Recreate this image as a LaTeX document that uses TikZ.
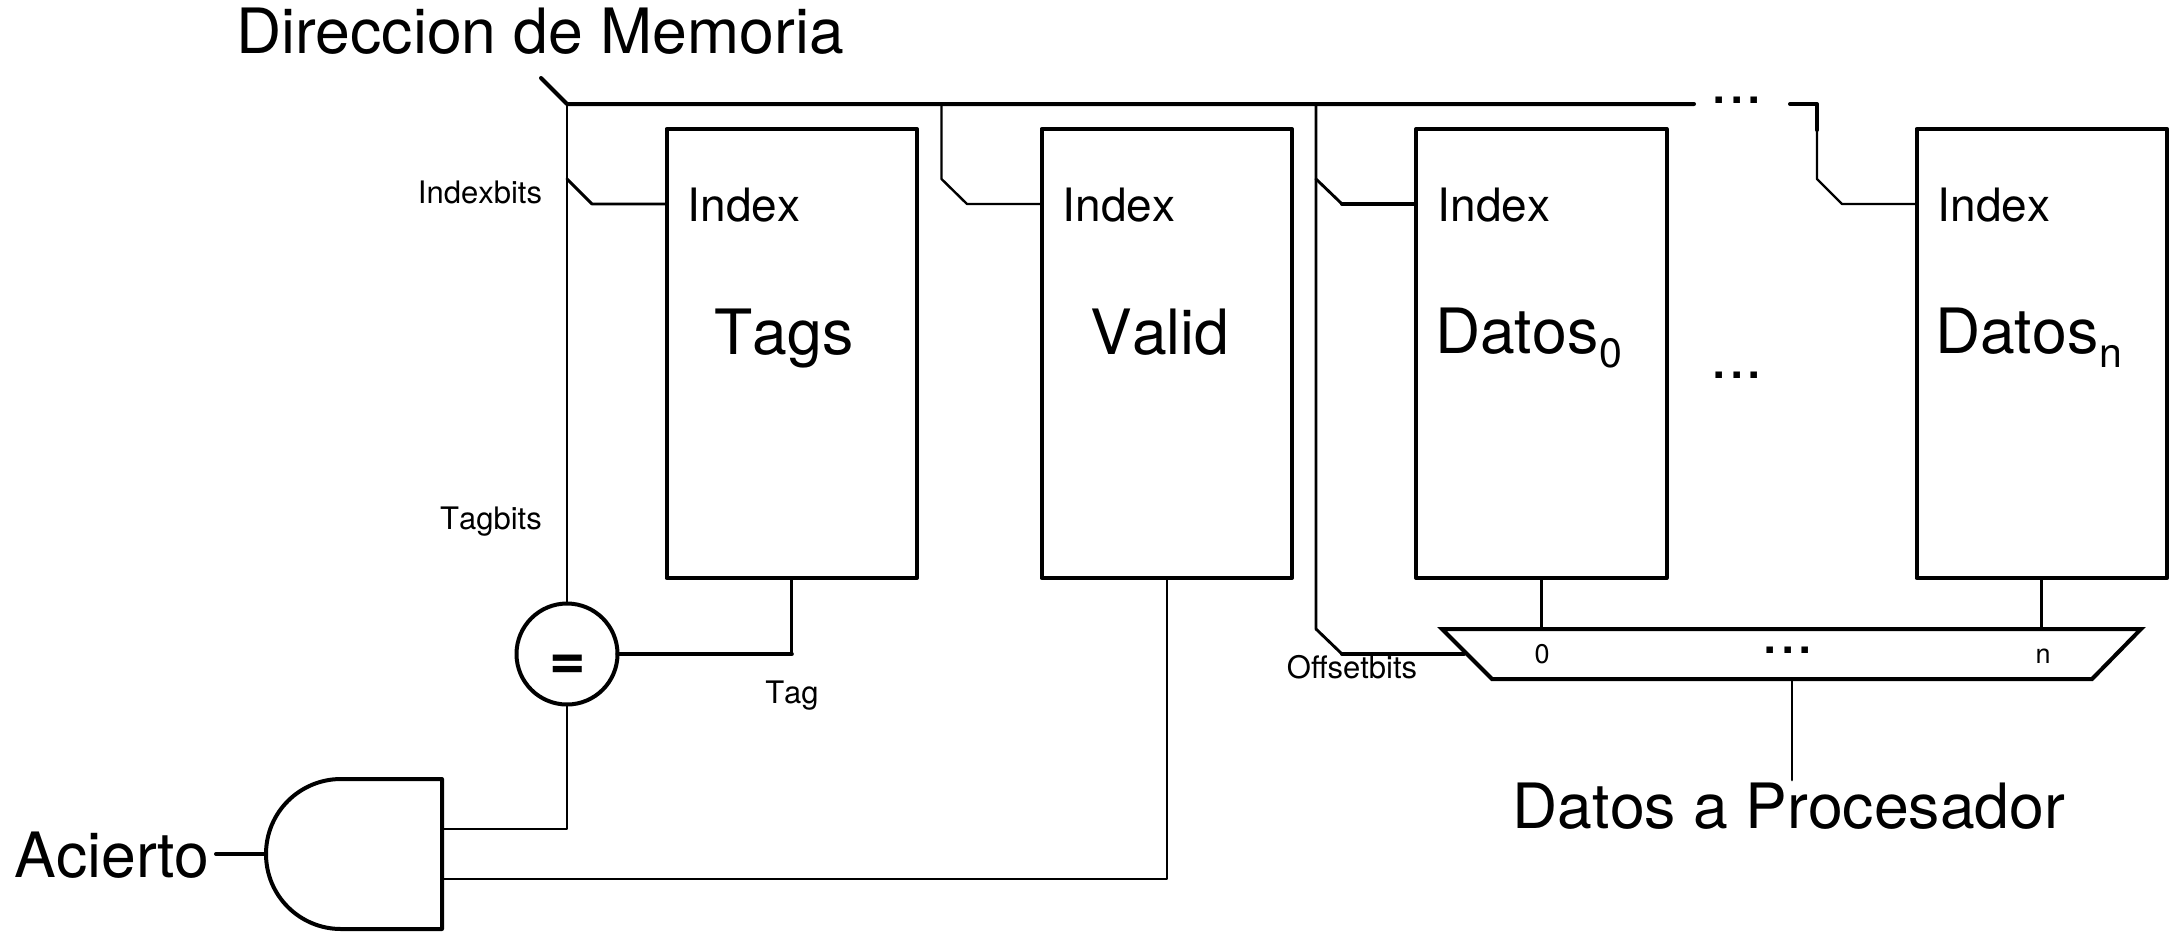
\documentclass[tikz,border=0pt]{standalone}
\usepackage{fontspec}
\setmainfont[Kerning=Off]{TeX Gyre Heros}
\newcommand{\fsz}[1]{\fontsize{#1}{#1}\selectfont}
\tikzset{
  wirethick/.style={line width=4pt,line cap=round,line join=round},
  wiremid/.style={line width=2.9pt,line cap=round,line join=round},
  wirethin/.style={line width=2.4pt,line cap=round,line join=round},
  membox/.style={draw,line width=4pt,line join=round,rectangle,inner sep=0,outer sep=0,minimum width=250.5pt,minimum height=449pt},
  big/.style={inner sep=0,outer sep=0,anchor=base,font=\fsz{62.5}},
  mid/.style={inner sep=0,outer sep=0,anchor=base,font=\fsz{46}},
  small/.style={inner sep=0,outer sep=0,anchor=base,font=\fsz{31}},
  tiny/.style={inner sep=0,outer sep=0,anchor=base,font=\fsz{27}},
  cmpcircle/.style={draw,circle,line width=4pt,inner sep=0,outer sep=0,minimum size=101pt}
}
\begin{document}
\begin{tikzpicture}[x=1pt,y=-1pt]
\useasboundingbox (0,0) rectangle (2183,946);
% boxes
\node[membox] (tags)  at (791.8,353.5) {};
\node[membox] (valid) at (1166.8,353.5) {};
\node[membox] (dat0)  at (1541.3,353.5) {};
\node[membox] (datn)  at (2041.8,353.5) {};
\node[cmpcircle] (eq) at (567,654) {};
% junction coordinates
\coordinate (entry) at (541,78);
\coordinate (bus0) at (567,104);
\coordinate (bus1) at (941.5,104);
\coordinate (bus2) at (1316,104);
\coordinate (busend) at (1694,104);
\coordinate (busres) at (1790,104);
\coordinate (busn) at (1817,104);
\coordinate (mtl) at (1442,629);
\coordinate (mtr) at (2141,629);
\coordinate (mbr) at (2092,679);
\coordinate (mbl) at (1492,679);
\coordinate (mout) at (1792,679);
\coordinate (mend) at (1792,780);
\coordinate (sel) at (1464,654);
\coordinate (gtr) at (442,779);
\coordinate (gbr) at (442,929);
\coordinate (gin1) at (442,829);
\coordinate (gin2) at (442,879);
\coordinate (gout) at (266,854);
\coordinate (hit) at (216,854);
% mux
\draw[wirethick,line join=miter] (mtl) -- (mtr) -- (mbr) -- (mbl) -- cycle;
% gate
\draw[wirethick] (gtr) -- (341,779) .. controls (300,779) and (266,812) .. (gout) .. controls (266,896) and (300,929) .. (341,929) -- (gbr) -- cycle;
% bus
\draw[wirethick] (entry) -- (bus0) -- (busend);
\draw[wirethick] (busres) -- (busn) -- (1817,130);
\draw[wirethin] (1817,130) -- (1817,179) -- (1842,204) -- (datn.west |- 0,204);
% branches
\draw[wiremid] (bus0) -- (eq.north);
\draw[wiremid] (567,179) -- (592,204) -- (tags.west |- 0,204);
\draw[wirethin] (bus1) -- (941.5,179) -- (967,204) -- (valid.west |- 0,204);
\draw[wiremid] (bus2) -- (1316,179) -- (1342,204);
\draw[wirethick] (1342,204) -- (dat0.west |- 0,204);
\draw[wiremid] (1316,179) -- (1316,629) -- (1342,654);
\draw[wirethick] (1342,654) -- (sel);
% tag compare
\draw[wiremid] (tags.south) -- (eq.east -| tags.south);
\draw[wirethick] (eq.east -| tags.south) -- (eq.east);
\draw[wirethin] (eq.south) -- (gin1 -| eq.south) -- (gin1);
\draw[wirethin] (valid.south) -- (gin2 -| valid.south) -- (gin2);
\draw[wirethick] (hit) -- (gout);
% mux connections
\draw[wiremid] (dat0.south) -- (dat0.south |- mtl);
\draw[wiremid] (datn.south) -- (datn.south |- mtl);
\draw[wiremid] (mout) -- (mend);
% labels
\node[big] (dir) at (540,53) {Direccion de Memoria};
\node[small] (idxbits) at (480,203) {Indexbits};
\node[small] (tagbits) at (491,529) {Tagbits};
\node[small] (taglbl) at (792,703) {Tag};
\node[small] (offbits) at (1352,678) {Offsetbits};
\node[mid] (i1) at (744,221) {Index};
\node[mid] (i2) at (1119,221) {Index};
\node[mid] (i3) at (1494,221) {Index};
\node[mid] (i4) at (1994,221) {Index};
\node[big] (ltags) at (784,354) {Tags};
\node[big] (lvalid) at (1160,354) {Valid};
\node[big,anchor=base west] (ld0) at (1435,353) {Datos\hspace{1pt}\raisebox{-14pt}{\fsz{41}0}};
\node[big,anchor=base west] (ldn) at (1935,353) {Datos\hspace{1pt}\raisebox{-14pt}{\fsz{41}n}};
\node[big] (d1) at (1737,103) {...};
\node[big] (d2) at (1737,378) {...};
\node[big] (d3) at (1788,653) {...};
\node[tiny] (m0) at (1542,663) {0};
\node[tiny] (mn) at (2043,663) {n};
\node[big,font=\fsz{62.5}\bfseries] (eqs) at (567.5,679) {=};
\node[big] (lout) at (1789,828) {Datos a Procesador};
\node[big] (lhit) at (112,877) {Acierto};
\end{tikzpicture}
\end{document}
